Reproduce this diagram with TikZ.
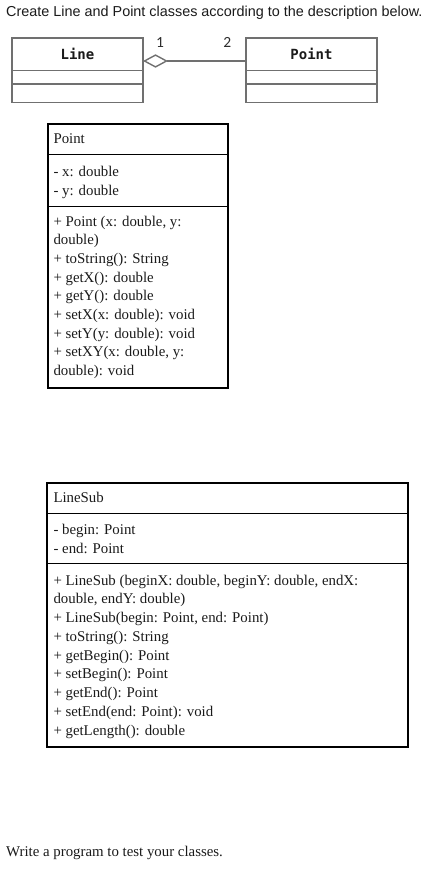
\documentclass[tikz,border=0pt]{standalone}
\usepackage{fontspec}
\setmainfont{Liberation Serif}
\newfontfamily\arialfont{Liberation Sans}
\newfontfamily\umlmono{DejaVu Sans Mono}
\newfontfamily\calfont{Carlito}
\usetikzlibrary{arrows.meta}
\definecolor{umlgray}{HTML}{707070}
\definecolor{labgray}{HTML}{2E2E2E}
\definecolor{txtdark}{HTML}{1A1A1A}
\begin{document}
\begin{tikzpicture}[x=1pt,y=-1pt,
  umlline/.style={draw=umlgray, line width=1.4pt},
  umlbox/.style={umlline, rectangle, inner sep=0, outer sep=0, minimum width=131pt, minimum height=64.7pt},
  umltitle/.style={anchor=base, inner sep=0, font=\umlmono\bfseries\fontsize{14}{16}\selectfont, text=txtdark},
  lab/.style={inner sep=0, font=\calfont\fontsize{15.5}{17}\selectfont, text=labgray},
  classbox/.style={draw=black, line width=1.8pt, rectangle, inner sep=0, outer sep=0},
  divline/.style={draw=black, line width=1pt},
  cls/.style={anchor=base west, inner sep=0, font=\fontsize{14.85}{18.7}\selectfont, text=txtdark},
  plain/.style={anchor=base west, inner sep=0}
]
\useasboundingbox (0,0) rectangle (433,869);

% heading
\node[plain, font=\arialfont\fontsize{14.4}{16}\selectfont, text=txtdark] (heading) at (6,16.5)
  {Create Line and Point classes according to the description below.};

% top UML diagram
\node[umlbox] (linebox) at (77.5,70.35) {};
\node[umlbox] (pointbox) at (311.5,70.35) {};
\node[umltitle] (linetitle) at (77.5,59.3) {Line};
\node[umltitle] (pointtitle) at (311.5,59.3) {Point};
\foreach \b in {linebox,pointbox}{
  \draw[umlline] (\b.west |- 0,70.5) -- (\b.east |- 0,70.5);
  \draw[umlline] (\b.west |- 0,84) -- (\b.east |- 0,84);
}
\draw[umlline, {Diamond[open,length=25pt,width=13.4pt]}-]
  ([yshift=9.35pt]linebox.east) -- ([yshift=9.35pt]pointbox.west);
\node[lab] (mult1) at (160,42.7) {1};
\node[lab] (mult2) at (227.3,42.7) {2};

% Point class
\node[classbox, minimum width=180pt, minimum height=264pt] (pointcls) at (138,256) {};
\draw[divline] (pointcls.west |- 0,155) -- (pointcls.east |- 0,155);
\draw[divline] (pointcls.west |- 0,206) -- (pointcls.east |- 0,206);
\node[cls] (pname) at (53.3,144) {Point};
\node[cls] (pa1) at (53.3,177) {- x: double};
\node[cls] (pa2) at (53.3,195.7) {- y: double};
\foreach \t [count=\i] in {{+ Point (x: double, y:},{double)},{+ toString(): String},{+ getX(): double},{+ getY(): double},{+ setX(x: double): void},{+ setY(y: double): void},{+ setXY(x: double, y:},{double): void}}{
  \pgfmathsetmacro\yy{226+(\i-1)*18.7}
  \node[cls] (pm\i) at (53.3,\yy) {\t};
}

% LineSub class
\node[classbox, minimum width=361pt, minimum height=264pt] (linecls) at (227.5,615) {};
\draw[divline] (linecls.west |- 0,513) -- (linecls.east |- 0,513);
\draw[divline] (linecls.west |- 0,563) -- (linecls.east |- 0,563);
\node[cls] (lname) at (53.3,502) {LineSub};
\node[cls] (la1) at (53.3,534) {- begin: Point};
\node[cls] (la2) at (53.3,553) {- end: Point};
\foreach \t [count=\i] in {{+ LineSub (beginX: double, beginY: double, endX:},{double, endY: double)},{+ LineSub(begin: Point, end: Point)},{+ toString(): String},{+ getBegin(): Point},{+ setBegin(): Point},{+ getEnd(): Point},{+ setEnd(end: Point): void},{+ getLength(): double}}{
  \pgfmathsetmacro\yy{585+(\i-1)*18.75}
  \node[cls] (lm\i) at (53.3,\yy) {\t};
}

% footer
\node[cls] (footer) at (6,856) {Write a program to test your classes.};
\end{tikzpicture}
\end{document}
